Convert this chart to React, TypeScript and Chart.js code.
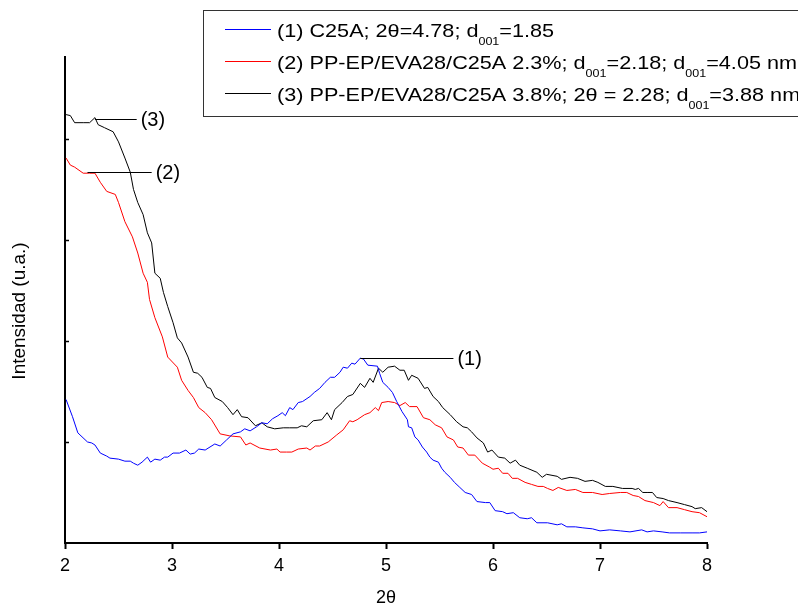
import { useEffect, useRef } from "react";
import { Chart, registerables } from "chart.js";

Chart.register(...registerables);

// ---- data (2θ in degrees, intensity in arbitrary units) ----
const theta1 = [2.01,2.07,2.12,2.21,2.25,2.28,2.33,2.39,2.42,2.50,2.56,2.61,2.64,2.68,2.72,2.77,2.80,2.84,2.89,2.93,2.96,3.01,3.07,3.13,3.17,3.21,3.25,3.31,3.40,3.45,3.51,3.57,3.64,3.68,3.73,3.79,3.84,3.89,3.94,3.99,4.03,4.06,4.10,4.13,4.18,4.22,4.29,4.33,4.38,4.43,4.48,4.52,4.57,4.60,4.64,4.68,4.71,4.76,4.79,4.83,4.92,4.94,4.97,5.02,5.06,5.10,5.15,5.20,5.21,5.24,5.27,5.30,5.34,5.38,5.41,5.44,5.49,5.52,5.55,5.60,5.64,5.69,5.74,5.80,5.85,5.93,5.97,6.02,6.09,6.13,6.19,6.25,6.32,6.36,6.41,6.51,6.60,6.64,6.69,6.77,6.84,6.93,7.00,7.09,7.19,7.28,7.39,7.44,7.50,7.58,7.65,7.75,7.86,7.93,8.00];
const intensity1 = [1.42,1.25,1.09,1.00,0.99,0.97,0.89,0.86,0.84,0.83,0.81,0.81,0.79,0.77,0.80,0.85,0.80,0.83,0.82,0.85,0.85,0.89,0.89,0.92,0.88,0.89,0.93,0.92,0.98,0.96,1.02,1.08,1.10,1.13,1.11,1.15,1.19,1.18,1.23,1.26,1.29,1.26,1.34,1.32,1.39,1.40,1.45,1.49,1.53,1.59,1.64,1.64,1.69,1.74,1.73,1.78,1.77,1.83,1.82,1.76,1.75,1.68,1.59,1.54,1.49,1.40,1.30,1.22,1.15,1.14,1.05,1.02,0.95,0.90,0.85,0.82,0.80,0.74,0.70,0.65,0.60,0.55,0.50,0.48,0.41,0.40,0.40,0.32,0.31,0.29,0.30,0.25,0.24,0.25,0.20,0.20,0.18,0.19,0.16,0.16,0.15,0.14,0.12,0.13,0.12,0.11,0.13,0.11,0.12,0.11,0.10,0.10,0.10,0.10,0.11];

const theta2 = [2.01,2.05,2.09,2.17,2.23,2.28,2.33,2.39,2.47,2.50,2.56,2.63,2.68,2.73,2.77,2.79,2.84,2.91,2.96,3.05,3.09,3.15,3.20,3.25,3.31,3.37,3.45,3.54,3.64,3.69,3.73,3.82,3.92,3.98,4.01,4.07,4.12,4.18,4.26,4.29,4.34,4.38,4.46,4.54,4.60,4.66,4.69,4.73,4.80,4.85,4.90,4.93,4.96,5.02,5.08,5.13,5.18,5.22,5.29,5.35,5.41,5.46,5.52,5.57,5.63,5.67,5.72,5.77,5.83,5.90,5.97,6.00,6.05,6.09,6.14,6.18,6.23,6.30,6.36,6.42,6.47,6.51,6.56,6.61,6.69,6.77,6.84,6.93,7.02,7.09,7.19,7.25,7.31,7.36,7.42,7.50,7.56,7.59,7.64,7.72,7.79,7.86,7.93,8.00];
const intensity2 = [3.81,3.74,3.72,3.66,3.66,3.66,3.57,3.48,3.45,3.37,3.18,3.03,2.87,2.67,2.58,2.41,2.23,2.04,1.84,1.74,1.61,1.51,1.44,1.34,1.29,1.22,1.08,1.06,1.05,0.97,0.99,0.94,0.92,0.93,0.90,0.90,0.90,0.93,0.94,0.92,0.96,0.96,1.00,1.07,1.12,1.21,1.20,1.22,1.27,1.29,1.34,1.31,1.39,1.40,1.39,1.36,1.39,1.35,1.35,1.24,1.22,1.17,1.14,1.05,1.02,0.95,0.94,0.87,0.87,0.79,0.75,0.73,0.74,0.69,0.69,0.64,0.64,0.60,0.58,0.56,0.56,0.54,0.52,0.55,0.52,0.53,0.50,0.50,0.48,0.49,0.50,0.50,0.47,0.46,0.42,0.40,0.37,0.41,0.35,0.35,0.33,0.31,0.30,0.26];

const theta3 = [2.01,2.05,2.09,2.17,2.23,2.28,2.31,2.37,2.45,2.50,2.56,2.61,2.64,2.68,2.73,2.77,2.81,2.84,2.89,2.92,2.96,3.01,3.05,3.09,3.15,3.20,3.24,3.28,3.33,3.36,3.40,3.47,3.52,3.57,3.61,3.65,3.71,3.78,3.84,3.89,3.96,4.04,4.10,4.17,4.21,4.26,4.32,4.40,4.45,4.49,4.52,4.59,4.64,4.69,4.76,4.80,4.85,4.88,4.93,4.97,5.02,5.08,5.13,5.17,5.21,5.24,5.30,5.36,5.39,5.44,5.49,5.53,5.60,5.66,5.72,5.76,5.80,5.85,5.91,5.95,5.99,6.05,6.11,6.16,6.21,6.25,6.32,6.41,6.46,6.50,6.60,6.64,6.72,6.79,6.86,6.93,6.98,7.05,7.12,7.21,7.30,7.33,7.36,7.40,7.44,7.49,7.53,7.59,7.64,7.72,7.79,7.86,7.89,7.95,8.00];
const intensity3 = [4.24,4.23,4.16,4.16,4.16,4.21,4.14,4.11,4.07,3.97,3.81,3.67,3.50,3.37,3.25,3.07,2.97,2.67,2.62,2.48,2.34,2.18,2.03,1.98,1.84,1.69,1.68,1.64,1.54,1.53,1.44,1.40,1.34,1.27,1.32,1.25,1.24,1.16,1.19,1.15,1.13,1.14,1.14,1.14,1.16,1.15,1.21,1.22,1.29,1.22,1.32,1.39,1.45,1.47,1.58,1.54,1.63,1.59,1.73,1.69,1.74,1.75,1.71,1.71,1.61,1.66,1.63,1.53,1.54,1.45,1.40,1.34,1.27,1.20,1.15,1.14,1.10,1.04,0.99,0.90,0.92,0.85,0.84,0.79,0.82,0.77,0.74,0.70,0.65,0.68,0.66,0.63,0.65,0.64,0.61,0.62,0.60,0.56,0.56,0.54,0.54,0.53,0.54,0.50,0.50,0.50,0.45,0.44,0.42,0.40,0.38,0.36,0.34,0.35,0.31];

const seriesNames = [
  "(1) C25A; 2θ=4.78; d001=1.85",
  "(2) PP-EP/EVA28/C25A 2.3%; d001=2.18; d001=4.05 nm",
  "(3) PP-EP/EVA28/C25A 3.8%; 2θ = 2.28; d001=3.88 nm",
];
const seriesColors = ["#0000ff", "#ff0000", "#000000"];

// legend text pieces: even index = normal text, odd index = subscript
const legendPieces = [
  ["(1) C25A; 2θ=4.78; d", "001", "=1.85"],
  ["(2) PP-EP/EVA28/C25A 2.3%; d", "001", "=2.18; d", "001", "=4.05 nm"],
  ["(3) PP-EP/EVA28/C25A 3.8%; 2θ = 2.28; d", "001", "=3.88 nm"],
];

const xTickValues = [2, 3, 4, 5, 6, 7, 8];
const yTickValues = [0, 1, 2, 3, 4];
const X_MIN = 2;
const X_MAX = 8;
const Y_MIN = 0;
const Y_MAX = 4.81;

// callout labels on the curves
const calloutLabels = ["(1)", "(2)", "(3)"];
const calloutFromX = [4.76, 2.21, 2.28];
const calloutToX = [5.63, 2.81, 2.67];
const calloutY = [1.83, 3.67, 4.2];

const xTitle = "2θ";
const yTitle = "Intensidad (u.a.)";
const FONT = "'Liberation Sans', Arial, Helvetica, sans-serif";

const overlayPlugin = {
  id: "overlay",
  afterDraw(chart: any) {
    const ctx: CanvasRenderingContext2D = chart.ctx;
    const xs = chart.scales.x;
    const ys = chart.scales.y;
    const ca = chart.chartArea;
    ctx.save();

    // short inward tick marks on the y axis
    ctx.strokeStyle = "#000";
    ctx.lineWidth = 1.5;
    yTickValues.forEach((v) => {
      if (v === Y_MIN) return;
      const py = Math.round(ys.getPixelForValue(v)) + 0.5;
      ctx.beginPath();
      ctx.moveTo(ca.left, py);
      ctx.lineTo(ca.left + 4, py);
      ctx.stroke();
    });

    // callouts
    ctx.lineWidth = 1;
    ctx.fillStyle = "#000";
    ctx.font = `20px ${FONT}`;
    ctx.textAlign = "left";
    ctx.textBaseline = "middle";
    calloutLabels.forEach((lab, i) => {
      const py = Math.round(ys.getPixelForValue(calloutY[i])) + 0.5;
      const x0 = xs.getPixelForValue(calloutFromX[i]);
      const x1 = xs.getPixelForValue(calloutToX[i]);
      ctx.beginPath();
      ctx.moveTo(x0, py);
      ctx.lineTo(x1, py);
      ctx.stroke();
      ctx.fillText(lab, x1 + 4, py + 1);
    });

    // y title
    ctx.save();
    ctx.translate(20, 311);
    ctx.rotate(-Math.PI / 2);
    ctx.textAlign = "center";
    ctx.textBaseline = "middle";
    ctx.font = `19px ${FONT}`;
    ctx.fillText(yTitle, 0, 0);
    ctx.restore();

    // legend box
    const boxL = 203.5, boxT = 10.5, boxB = 116.5;
    ctx.strokeStyle = "#333";
    ctx.lineWidth = 1;
    ctx.strokeRect(boxL, boxT, chart.width, boxB - boxT);

    const mainFont = `19px ${FONT}`;
    const subFont = `11px ${FONT}`;
    const lineX0 = 225, lineX1 = 271, textX = 277;
    const baselines = [37, 69, 101];
    const measure = (pieces: string[]) => {
      let w = 0;
      pieces.forEach((p, k) => {
        ctx.font = k % 2 ? subFont : mainFont;
        w += ctx.measureText(p).width;
      });
      return w;
    };
    const sx = (797 - textX) / measure(legendPieces[1]);
    legendPieces.forEach((pieces, r) => {
      const base = baselines[r];
      ctx.strokeStyle = seriesColors[r];
      ctx.lineWidth = 1;
      ctx.beginPath();
      ctx.moveTo(lineX0, base - 7.5);
      ctx.lineTo(lineX1, base - 7.5);
      ctx.stroke();
      ctx.save();
      ctx.translate(textX, base);
      ctx.scale(sx, 1);
      ctx.fillStyle = "#000";
      ctx.textAlign = "left";
      ctx.textBaseline = "alphabetic";
      let cx = 0;
      pieces.forEach((p, k) => {
        ctx.font = k % 2 ? subFont : mainFont;
        ctx.fillText(p, cx, k % 2 ? 8 : 0);
        cx += ctx.measureText(p).width;
      });
      ctx.restore();
    });

    ctx.restore();
  },
};

export default function App() {
  const ref = useRef<HTMLCanvasElement | null>(null);
  useEffect(() => {
    document.body.style.margin = "0";
    const canvas = ref.current;
    if (!canvas) return;
    const thetas = [theta1, theta2, theta3];
    const ints = [intensity1, intensity2, intensity3];
    const chart = new Chart(canvas, {
      type: "line",
      data: {
        datasets: thetas.map((th, i) => ({
          label: seriesNames[i],
          data: th.map((x, j) => ({ x, y: ints[i][j] })),
          borderColor: seriesColors[i],
          backgroundColor: seriesColors[i],
          borderWidth: 1,
          pointRadius: 0,
          tension: 0,
          fill: false,
        })),
      },
      options: {
        animation: false,
        responsive: false,
        maintainAspectRatio: false,
        devicePixelRatio: 1,
        layout: { padding: { left: 0, right: 91, top: 57, bottom: 0 } },
        plugins: { legend: { display: false }, tooltip: { enabled: false } },
        scales: {
          x: {
            type: "linear",
            min: X_MIN,
            max: X_MAX,
            afterBuildTicks: (s: any) => {
              s.ticks = xTickValues.map((v) => ({ value: v }));
            },
            afterFit: (s: any) => {
              s.height = 62;
            },
            grid: {
              display: true,
              drawOnChartArea: false,
              drawTicks: true,
              tickLength: 6,
              tickWidth: 2,
              tickColor: "#000",
            },
            border: { display: true, color: "#000", width: 2 },
            ticks: {
              color: "#000",
              font: { size: 18, family: FONT },
              padding: 6,
              maxRotation: 0,
              callback: (v: any) => String(v),
            },
            title: {
              display: true,
              text: xTitle,
              color: "#000",
              font: { size: 18, family: FONT, lineHeight: 0.8 },
              padding: { top: 0, bottom: 0 },
            },
          },
          y: {
            type: "linear",
            min: Y_MIN,
            max: Y_MAX,
            afterBuildTicks: (s: any) => {
              s.ticks = yTickValues.map((v) => ({ value: v }));
            },
            afterFit: (s: any) => {
              s.width = 65;
            },
            grid: { display: false },
            border: { display: true, color: "#000", width: 2 },
            ticks: { display: false },
          },
        },
      } as any,
      plugins: [overlayPlugin],
    });
    return () => chart.destroy();
  }, []);
  return (
    <div style={{ width: 798, height: 605, position: "relative", overflow: "hidden" }}>
      <canvas ref={ref} width={798} height={605} style={{ display: "block" }} />
    </div>
  );
}
